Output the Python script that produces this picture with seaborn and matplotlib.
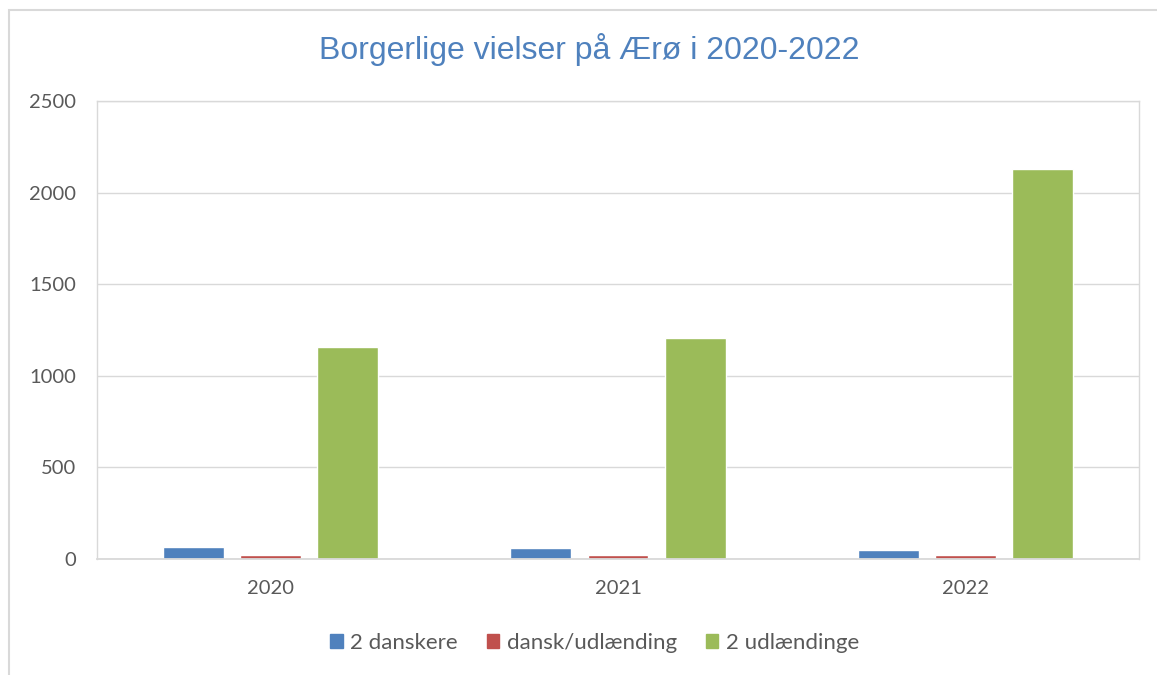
import pandas as pd
import matplotlib.pyplot as plt
import matplotlib.patches as mpatches
import seaborn as sns

# Data
years = ["2020", "2021", "2022"]
series = ["2 danskere", "dansk/udlænding", "2 udlændinge"]
danskere = [67, 62, 51]
blandet = [20, 20, 24]
udlaendinge = [1157, 1206, 2129]
colors = ["#4F81BD", "#C0504D", "#9BBB59"]

df = pd.DataFrame({
    "år": years * 3,
    "type": [series[0]] * 3 + [series[1]] * 3 + [series[2]] * 3,
    "antal": danskere + blandet + udlaendinge,
})

sns.set_style("white")
plt.rcParams["font.family"] = ["Lato", "DejaVu Sans"]

fig = plt.figure(figsize=(11.57, 6.75), dpi=100)
ax = fig.add_axes([97 / 1157, 1 - 559 / 675, (1139 - 97) / 1157, (559 - 101) / 675])

sns.barplot(data=df, x="år", y="antal", hue="type", hue_order=series,
            palette=colors, width=0.666, gap=0.21, saturation=1,
            order=years, ax=ax, legend=False)

ax.set_ylim(0, 2500)
ax.set_yticks(range(0, 2501, 500))
ax.set_xlabel("")
ax.set_ylabel("")
ax.yaxis.grid(True, color="#D9D9D9", linewidth=1)
ax.set_axisbelow(True)
for s in ax.spines.values():
    s.set_color("#D9D9D9")
    s.set_linewidth(1)
ax.spines["bottom"].set_linewidth(1.3)
ax.tick_params(axis="y", length=0, pad=15, labelsize=14.5, labelcolor="#595959")
ax.tick_params(axis="x", length=0, pad=15, labelsize=14.5, labelcolor="#595959")

fig.text(0.509, 1 - 50 / 675, "Borgerlige vielser på Ærø i 2020-2022",
         ha="center", va="center", fontsize=23, color="#4F81BD",
         family=["Liberation Sans", "DejaVu Sans"])

handles = [mpatches.Patch(color=c, label=l) for c, l in zip(colors, series)]
fig.legend(handles=handles, loc="center", bbox_to_anchor=(0.514, 1 - 643 / 675),
           ncol=3, frameon=False, fontsize=16, labelcolor="#595959",
           handlelength=0.55, handleheight=0.55, handletextpad=0.35,
           columnspacing=1.3)

# chart border
fig.patches.append(mpatches.Rectangle((9 / 1157, -0.1), 1.1, 1 - 10 / 675 + 0.1,
                                      transform=fig.transFigure, fill=False,
                                      edgecolor="#D9D9D9", linewidth=1.5))

fig.savefig("out.png", dpi=100)
